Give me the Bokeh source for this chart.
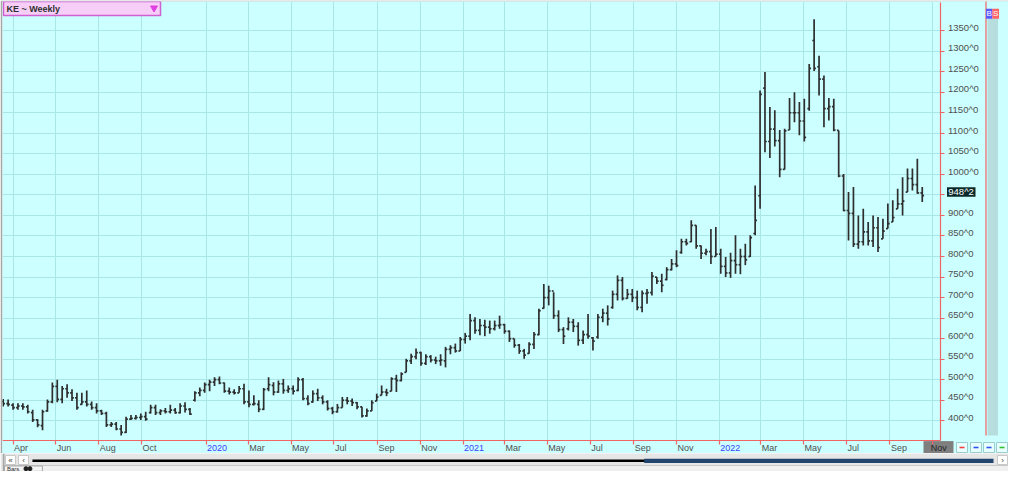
import pandas as pd
from bokeh.plotting import figure
from bokeh.models import (FixedTicker, Range1d, ColumnDataSource, Grid,
                          DatetimeAxis, LinearAxis)
from bokeh.layouts import column
from bokeh.embed import file_html
from bokeh.resources import INLINE
from bokeh.core.properties import value

# ---------------- data (weekly KE bars, cents/bu) ----------------
first_week = "2019-03-18"
highs = [453, 452, 443, 443, 443, 439, 427, 404, 427, 452,
         493, 500, 485, 489, 477, 468, 468, 474, 447, 443,
         427, 422, 397, 397, 390, 410, 414, 414, 418, 422,
         439, 439, 428, 431, 439, 431, 443, 445, 431, 472,
         481, 493, 500, 506, 508, 493, 481, 477, 485, 490,
         474, 462, 450, 480, 506, 494, 498, 502, 486, 486,
         506, 504, 462, 474, 478, 462, 450, 434, 441, 458,
         458, 454, 446, 434, 430, 450, 466, 486, 478, 506,
         512, 518, 551, 563, 576, 568, 562, 560, 556, 562,
         580, 584, 588, 604, 614, 660, 652, 648, 646, 644,
         644, 656, 636, 620, 600, 587, 575, 591, 616, 673,
         733, 729, 713, 669, 628, 652, 648, 640, 620, 660,
         604, 660, 673, 681, 717, 754, 750, 721, 721, 717,
         717, 721, 762, 750, 758, 774, 794, 815, 843, 843,
         888, 876, 827, 819, 867, 872, 819, 799, 809, 852,
         819, 831, 852, 973, 1204, 1249, 1164, 1156, 1108, 1111,
         1186, 1200, 1176, 1184, 1269, 1378, 1289, 1241, 1186, 1184,
         1107, 1001, 957, 969, 900, 916, 884, 900, 896, 892,
         929, 937, 965, 993, 1014, 1014, 1038, 969]
lows = [435, 435, 427, 427, 427, 418, 397, 384, 377, 422,
        443, 445, 443, 456, 448, 427, 439, 435, 427, 418,
        414, 385, 385, 377, 364, 370, 402, 403, 402, 400,
        418, 414, 414, 418, 418, 417, 418, 420, 414, 447,
        460, 468, 472, 485, 489, 468, 464, 464, 468, 440,
        433, 437, 421, 426, 472, 462, 468, 466, 468, 464,
        472, 450, 438, 444, 448, 440, 425, 416, 420, 432,
        440, 436, 428, 408, 410, 424, 448, 462, 460, 472,
        470, 496, 518, 538, 550, 534, 536, 542, 538, 534,
        530, 562, 566, 570, 588, 596, 612, 608, 606, 612,
        620, 624, 612, 592, 578, 563, 551, 563, 575, 608,
        673, 681, 648, 616, 587, 620, 616, 583, 587, 600,
        571, 600, 640, 632, 673, 693, 693, 697, 689, 669,
        664, 685, 705, 733, 713, 742, 766, 774, 807, 827,
        835, 819, 794, 803, 782, 800, 758, 750, 748, 758,
        757, 779, 799, 852, 916, 1054, 1040, 1068, 993, 1012,
        1108, 1127, 1095, 1080, 1155, 1252, 1192, 1115, 1131, 1105,
        993, 910, 839, 823, 819, 827, 827, 823, 811, 843,
        868, 884, 916, 900, 957, 961, 953, 933]
opens = [447, 442, 438, 432, 436, 434, 420, 402, 388, 424,
         446, 484, 452, 478, 468, 456, 440, 446, 440, 432,
         424, 418, 390, 392, 380, 372, 404, 406, 408, 410,
         420, 432, 420, 424, 422, 426, 420, 436, 428, 450,
         468, 474, 488, 494, 500, 492, 472, 470, 468, 478,
         446, 440, 440, 428, 478, 486, 470, 490, 474, 478,
         474, 500, 454, 446, 466, 456, 446, 430, 422, 432,
         450, 448, 444, 434, 412, 424, 448, 462, 470, 472,
         502, 498, 518, 546, 556, 566, 540, 556, 548, 546,
         546, 574, 578, 570, 598, 606, 644, 620, 632, 628,
         624, 632, 634, 618, 600, 584, 570, 564, 586, 610,
         674, 700, 716, 656, 622, 624, 640, 630, 596, 610,
         602, 604, 652, 662, 676, 708, 742, 698, 708, 700,
         676, 710, 712, 750, 740, 744, 768, 782, 810, 836,
         836, 876, 826, 808, 812, 800, 806, 776, 760, 790,
         780, 800, 800, 856, 948, 1210, 1080, 1110, 1082, 1012,
         1108, 1150, 1150, 1130, 1160, 1326, 1262, 1232, 1160, 1165,
         1107, 996, 912, 905, 830, 836, 860, 838, 870, 843,
         868, 884, 916, 928, 957, 990, 975, 955]
closes = [442, 440, 432, 436, 434, 422, 402, 390, 422, 446,
          484, 452, 478, 468, 456, 432, 446, 440, 432, 424,
          418, 390, 392, 380, 372, 404, 406, 408, 410, 404,
          432, 420, 424, 422, 426, 420, 436, 428, 416, 468,
          474, 488, 494, 500, 492, 472, 470, 468, 478, 446,
          440, 442, 428, 476, 488, 470, 490, 474, 478, 472,
          500, 454, 442, 466, 456, 446, 430, 422, 432, 450,
          448, 444, 434, 412, 424, 444, 458, 470, 468, 502,
          498, 514, 546, 556, 566, 540, 556, 548, 546, 548,
          574, 578, 570, 598, 606, 644, 620, 632, 628, 624,
          632, 634, 618, 600, 584, 570, 560, 586, 610, 668,
          700, 716, 656, 622, 606, 640, 630, 596, 610, 606,
          594, 652, 662, 648, 708, 742, 698, 708, 700, 676,
          710, 712, 752, 740, 730, 768, 782, 778, 836, 832,
          876, 826, 808, 812, 800, 806, 776, 760, 790, 780,
          800, 792, 846, 888, 1195, 1080, 1110, 1082, 1012, 1106,
          1150, 1150, 1130, 1090, 1258, 1258, 1232, 1160, 1165, 1108,
          996, 912, 905, 830, 836, 860, 838, 870, 822, 862,
          880, 895, 928, 935, 990, 975, 955, 948.25]
last_price_label = "948^2"

x_tick_dates = ["2019-04-01", "2019-06-01", "2019-08-01", "2019-10-01",
                "2020-01-01", "2020-03-01", "2020-05-01", "2020-07-01",
                "2020-09-01", "2020-11-01", "2021-01-01", "2021-03-01",
                "2021-05-01", "2021-07-01", "2021-09-01", "2021-11-01",
                "2022-01-01", "2022-03-01", "2022-05-01", "2022-07-01",
                "2022-09-01", "2022-11-01"]
x_tick_labels = ["Apr", "Jun", "Aug", "Oct", "2020", "Mar", "May", "Jul",
                 "Sep", "Nov", "2021", "Mar", "May", "Jul", "Sep", "Nov",
                 "2022", "Mar", "May", "Jul", "Sep", "Nov"]
y_ticks = [400, 450, 500, 550, 600, 650, 700, 750, 800, 850, 900, 950,
           1000, 1050, 1100, 1150, 1200, 1250, 1300, 1350]
y_tick_labels = ["400^0", "450^0", "500^0", "550^0", "600^0", "650^0",
                 "700^0", "750^0", "800^0", "850^0", "900^0", "950^0",
                 "1000^0", "1050^0", "1100^0", "1150^0", "1200^0",
                 "1250^0", "1300^0", "1350^0"]

# ---------------- styles / geometry (pixel positions = reference pixels) ----
BG = "#ccffff"
GRID = "#aae6e6"
RED = "#f06464"
BAR = "#2e2e2e"
LBL = "#505050"
YEAR = "#4040ff"
FONT = "Liberation Sans"

W, H = 1008, 453                    # main canvas
FL, FT = 2, 1                       # grey left / top border
X0 = pd.Timestamp("2019-03-17")     # date at pixel x=2
X1 = pd.Timestamp("2022-11-12")     # date at pixel x=940 (price axis)
Y0, Y1 = 352.0, 1418.5              # price at pixel y=440 / y=2


def ms(t):
    return pd.Timestamp(t).value // 10**6


def rx(x):   # pixel x -> date (ms)
    return ms(X0) + (x - 2) * (ms(X1) - ms(X0)) / 938.0


def ry(y):   # pixel y -> price
    return Y0 + (440 - y) * (Y1 - Y0) / 438.0


dates = pd.date_range(first_week, periods=len(closes), freq="7D")
x_tick_ms = [ms(d) for d in x_tick_dates]

p = figure(width=W, height=H,
           x_range=Range1d(rx(FL), rx(W)), y_range=Range1d(ry(H), ry(FT)),
           x_axis_location=None, y_axis_location=None,
           output_backend="svg", toolbar_location=None,
           min_border_left=FL, min_border_top=FT, min_border_right=0,
           min_border_bottom=0,
           background_fill_color=BG, border_fill_color="#a6a6a6",
           outline_line_color=None)
for g in p.select(type=Grid):
    g.visible = False

p.add_layout(Grid(dimension=0, ticker=FixedTicker(ticks=x_tick_ms),
                  grid_line_color=GRID, grid_line_width=1))
p.add_layout(Grid(dimension=1, ticker=FixedTicker(ticks=y_ticks),
                  grid_line_color=GRID, grid_line_width=1))

# cover the label strips so the grid stops at the axes
p.quad(left=[rx(940.6), rx(0)], right=[rx(1030), rx(1030)],
       top=[ry(-5), ry(440.6)], bottom=[ry(460), ry(460)],
       fill_color=BG, line_color=None)

# grey box behind the last month label
p.quad(left=[rx(923)], right=[rx(953)], top=[ry(440.6)], bottom=[ry(452.7)],
       fill_color="#7f7f7f", line_color=None)

# ---------------- axes (lines + ticks) ----------------
xa = DatetimeAxis(ticker=FixedTicker(ticks=x_tick_ms),
                  fixed_location=Y0, bounds=(ms(X0), ms(X1)))
ya = LinearAxis(ticker=FixedTicker(ticks=y_ticks),
                fixed_location=ms(X1), bounds=(Y0, Y1))
for ax in (xa, ya):
    ax.axis_line_color = RED
    ax.axis_line_width = 1.2
    ax.major_tick_line_color = RED
    ax.major_tick_line_width = 1.2
    ax.major_tick_out = 4
    ax.major_tick_in = 0
    ax.minor_tick_line_color = None
    ax.major_label_text_color = None
p.add_layout(xa, "below")
p.add_layout(ya, "right")

# tick labels
x_col = [YEAR if lab.isdigit() else LBL for lab in x_tick_labels]
x_col[-1] = "#262626"
x_off = [1] * len(x_tick_labels)
x_off[-1] = -2
p.text(x=x_tick_ms, y=[ry(447.3)] * len(x_tick_ms), text=x_tick_labels,
       text_color=x_col, x_offset=x_off,
       text_font=value(FONT), text_font_size="9px",
       text_align="left", text_baseline="middle")

keep = [i for i, t in enumerate(y_ticks) if abs(t - closes[-1]) > 20]
p.text(x=[ms(X1)] * len(keep), y=[y_ticks[i] for i in keep],
       text=[y_tick_labels[i] for i in keep], x_offset=7.5, y_offset=-3.3,
       text_font=value(FONT), text_font_size="9.5px", text_color=LBL,
       text_align="left", text_baseline="middle")

# ---------------- OHLC bars ----------------
tick_len = pd.Timedelta(days=2.6)
src = ColumnDataSource(dict(t=dates, t_o=dates - tick_len, t_c=dates + tick_len,
                            o=opens, h=highs, l=lows, c=closes))
p.segment(x0="t", y0="l", x1="t", y1="h", source=src,
          line_color=BAR, line_width=1.7)
p.segment(x0="t_o", y0="o", x1="t", y1="o", source=src,
          line_color=BAR, line_width=1.7)
p.segment(x0="t", y0="c", x1="t_c", y1="c", source=src,
          line_color=BAR, line_width=1.7)

# last price tag
px_p = (Y1 - Y0) / 438.0
p.quad(left=[rx(946.5)], right=[rx(975)], top=[closes[-1] + 8.5 * px_p],
       bottom=[closes[-1] - 1.0 * px_p], fill_color="#0a2a2a", line_color=None)
p.text(x=[rx(947.8)], y=[closes[-1]], text=[last_price_label], y_offset=-3.7,
       text_font=value(FONT), text_font_size="9.5px", text_color="#ffffff",
       text_align="left", text_baseline="middle")

# title box
p.quad(left=[rx(3)], right=[rx(160)], top=[ry(1)], bottom=[ry(15)],
       fill_color="#f7cef7", line_color="#d060d0", line_width=1.5)
p.text(x=[rx(6)], y=[ry(8)], text=["KE ~ Weekly"],
       text_font=value(FONT), text_font_style="bold",
       text_font_size="9px", text_color="#303030",
       text_baseline="middle", text_align="left")
p.scatter(x=[rx(153.5)], y=[ry(7.5)], marker="inverted_triangle", size=7,
          fill_color="#e040e0", line_color="#e040e0")

# right side strip
p.segment(x0=[rx(985.5)], y0=[ry(0)], x1=[rx(985.5)], y1=[ry(435)],
          line_color=RED, line_width=1.2)
p.quad(left=[rx(987)], right=[rx(997.5)], top=[ry(18)], bottom=[ry(435)],
       fill_color="#b6dede", line_color=None)
p.quad(left=[rx(985.5), rx(991.8)], right=[rx(991.8), rx(998.5)],
       top=[ry(8.3)] * 2, bottom=[ry(18.3)] * 2,
       fill_color=["#5a5aff", "#ff6464"], line_color=None)
p.text(x=[rx(988.6), rx(995.1)], y=[ry(13.3)] * 2, text=["B", "S"],
       text_color="#ffffff", text_font=value(FONT), text_font_size="8px",
       text_align="center", text_baseline="middle")

# small buttons right of the date strip
bx = [956, 970, 983, 996]
p.quad(left=[rx(b) for b in bx], right=[rx(b + 11) for b in bx],
       top=[ry(442)] * 4, bottom=[ry(452)] * 4,
       fill_color="#e8ffff", line_color="#9ccccc")
p.segment(x0=[rx(b + 3) for b in bx], y0=[ry(447)] * 4,
          x1=[rx(b + 8) for b in bx], y1=[ry(447)] * 4,
          line_color=["#f04040", "#3050f0", "#3050f0", "#30c030"],
          line_width=1.6)

# ---------------- bottom scroll / status bar ----------------
q = figure(width=1008, height=18, x_range=(0, 1008), y_range=(471, 453),
           output_backend="svg", toolbar_location=None,
           x_axis_location=None, y_axis_location=None,
           min_border=0, background_fill_color="#e6e6e6",
           border_fill_color="#e6e6e6", outline_line_color=None)
q.grid.visible = False
q.quad(left=[0], right=[1008], top=[465], bottom=[471],
       fill_color="#f0f0f0", line_color=None)
q.segment(x0=[0], y0=[465], x1=[1008], y1=[465], line_color="#c8c8c8")
q.quad(left=[3, 16, 997], right=[13, 26, 1007],
       top=[455] * 3, bottom=[464] * 3,
       fill_color="#ffffff", line_color="#c8c8c8")
q.text(x=[8, 21, 1002], y=[459.5] * 3, text=["«", "‹", "›"],
       text_font=value(FONT), text_font_size="8px", text_color="#404040",
       text_align="center", text_baseline="middle")
q.segment(x0=[30], y0=[460.2], x1=[645], y1=[460.2],
          line_color="#000000", line_width=2.6)
q.quad(left=[643], right=[993], top=[458.2], bottom=[462.4],
       fill_color="#21456e", line_color=None)
q.quad(left=[2], right=[40], top=[465.5], bottom=[470.8],
       fill_color="#f6f6f6", line_color="#a8a8a8")
q.text(x=[4.5], y=[468.2], text=["Bars"], text_font=value(FONT),
       text_font_size="6px", text_color="#303030",
       text_align="left", text_baseline="middle")
q.scatter(x=[23.5, 27.5], y=[468.2, 468.2], size=4, color="#202020")
q.segment(x0=[1], y0=[453], x1=[1], y1=[471], line_color="#a6a6a6",
          line_width=2)

layout = column(p, q, spacing=0)
open("out.html", "w").write(file_html(layout, INLINE))
